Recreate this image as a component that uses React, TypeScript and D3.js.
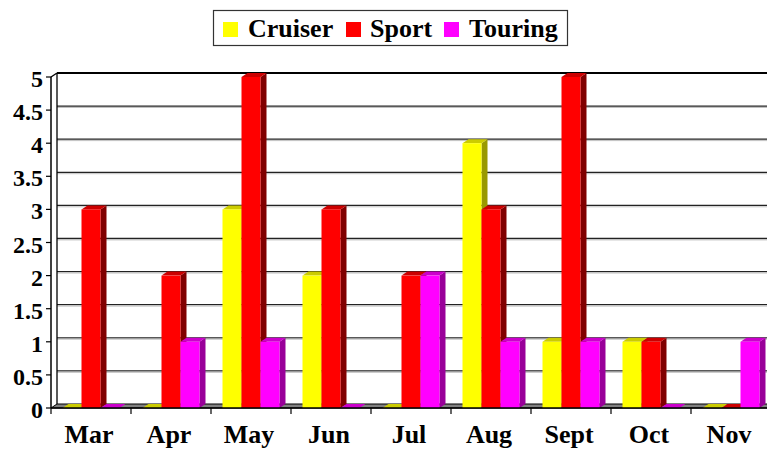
import * as d3 from "d3";
import React from "react";

const months = ["Mar", "Apr", "May", "Jun", "Jul", "Aug", "Sept", "Oct", "Nov"];
const seriesNames = ["Cruiser", "Sport", "Touring"];
const cruiser = [0, 0, 3, 2, 0, 4, 1, 1, 0];
const sport = [3, 2, 5, 3, 2, 3, 5, 1, 0];
const touring = [0, 1, 1, 0, 2, 1, 1, 0, 1];
const yTicks = [0, 0.5, 1, 1.5, 2, 2.5, 3, 3.5, 4, 4.5, 5];

// front, top, side shades per series
const colors = [
  { front: "#ffff00", top: "#cccc00", side: "#999900" },
  { front: "#ff0000", top: "#cc0000", side: "#800000" },
  { front: "#ff00ff", top: "#cc00cc", side: "#990099" },
];

const W = 767;
const H = 449;
const DX = 6;
const DY = 4;
const font = '"Liberation Serif"';

export default function App() {
  const values = [cruiser, sport, touring];

  const x = d3.scaleBand().domain(months).range([51, 771]);
  const x1 = d3.scaleBand().domain(seriesNames).range([11.5, 68.5]);
  const y = d3.scaleLinear().domain([0, 5]).range([408, 77]);

  const left = x.range()[0];
  const right = x.range()[1];
  const y0 = y(0);
  const yTop = y(5);

  const bars = [];
  months.forEach((m, i) => {
    seriesNames.forEach((s, k) => {
      const v = values[k][i];
      const bx = x(m) + x1(s);
      const bw = x1.bandwidth();
      const ty = y(v);
      const c = colors[k];
      bars.push(
        <g key={m + s}>
          {v > 0 && (
            <polygon
              points={`${bx + bw},${ty} ${bx + bw + DX},${ty - DY} ${bx + bw + DX},${y0 - DY} ${bx + bw},${y0}`}
              fill={c.side}
            />
          )}
          <polygon
            points={`${bx},${ty} ${bx + DX},${ty - DY} ${bx + bw + DX},${ty - DY} ${bx + bw},${ty}`}
            fill={c.top}
          />
          {v > 0 && <rect x={bx} y={ty} width={bw} height={y0 - ty} fill={c.front} />}
        </g>
      );
    });
  });

  const legendItems = [
    { name: "Cruiser", sx: 223, tx: 248 },
    { name: "Sport", sx: 346, tx: 370 },
    { name: "Touring", sx: 444, tx: 469 },
  ];

  return (
    <svg width={W} height={H} style={{ position: "absolute", left: 0, top: 0, background: "#fff" }}>
      {/* back wall gridlines */}
      {yTicks.map((t) =>
        t === 0 ? null : t === 5 ? (
          <line key={t} x1={left + DX} x2={right + DX} y1={y(t) - DY} y2={y(t) - DY} stroke="#000" strokeWidth={2} />
        ) : (
          <g key={t}>
            <line x1={left + DX} x2={right + DX} y1={y(t) - DY} y2={y(t) - DY} stroke="#222" strokeWidth={1.3} />
            <line x1={left + DX} x2={right + DX} y1={y(t) - DY + 1.4} y2={y(t) - DY + 1.4} stroke="#c0c0c0" strokeWidth={1} />
          </g>
        )
      )}
      {/* left wall */}
      <line x1={left + DX} x2={left + DX} y1={yTop - DY} y2={y0 - DY} stroke="#000" strokeWidth={1.3} />
      <line x1={left} x2={left + DX} y1={yTop} y2={yTop - DY} stroke="#000" strokeWidth={1.3} />
      {/* floor */}
      <polygon
        points={`${left},${y0} ${left + DX},${y0 - DY} ${right + DX},${y0 - DY} ${right},${y0}`}
        fill="#808080"
        stroke="#000"
        strokeWidth={1}
      />
      {bars}
      {/* front axes */}
      <line x1={left} x2={left} y1={yTop} y2={y0} stroke="#000" strokeWidth={1.5} />
      <line x1={left} x2={right} y1={y0} y2={y0} stroke="#000" strokeWidth={1.5} />
      {yTicks.map((t) => (
        <g key={"yt" + t}>
          <line x1={left - 5} x2={left} y1={y(t)} y2={y(t)} stroke="#000" strokeWidth={1.2} />
          <text x={43} y={y(t) + 10} textAnchor="end" fontSize={24} fontFamily={font} fontWeight="bold">
            {t}
          </text>
        </g>
      ))}
      {months.map((m) => (
        <g key={"xt" + m}>
          <line x1={x(m)} x2={x(m)} y1={y0} y2={y0 + 6} stroke="#000" strokeWidth={1.2} />
          <text
            x={x(m) + x.bandwidth() / 2 - 2}
            y={443}
            textAnchor="middle"
            fontSize={26}
            fontFamily={font}
            fontWeight="bold"
          >
            {m}
          </text>
        </g>
      ))}
      {/* legend */}
      <rect x={213.5} y={10.5} width={354} height={35} fill="#fff" stroke="#333" strokeWidth={1.2} />
      {legendItems.map((d, k) => (
        <g key={d.name}>
          <rect x={d.sx} y={22} width={15} height={15} fill={colors[k].front} />
          <text x={d.tx} y={37} fontSize={26} fontFamily={font} fontWeight="bold">
            {d.name}
          </text>
        </g>
      ))}
    </svg>
  );
}
